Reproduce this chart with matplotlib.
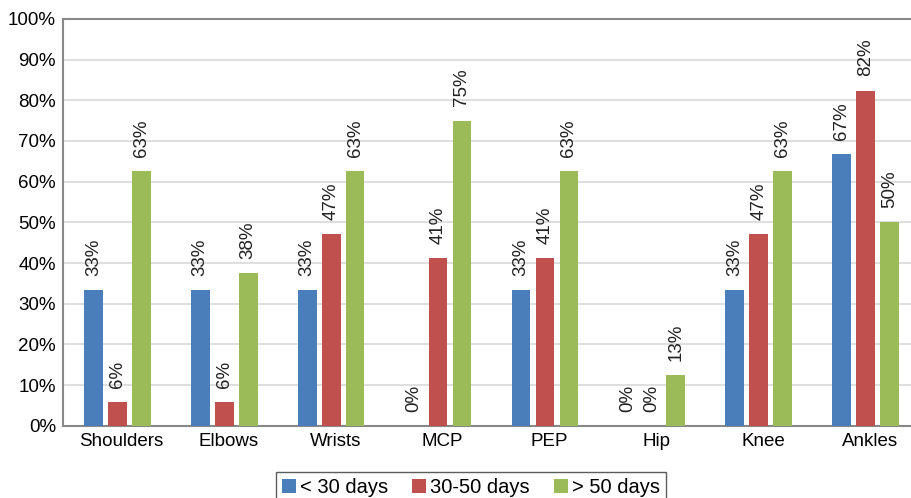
import numpy as np
import matplotlib.pyplot as plt

plt.rcParams['font.family'] = ['Liberation Sans', 'DejaVu Sans']

# Datos (porcentaje)
categorias = ["Shoulders", "Elbows", "Wrists", "MCP", "PEP", "Hip", "Knee", "Ankles"]
menos_30 = [33.3, 33.3, 33.3, 0, 33.3, 0, 33.3, 66.7]
entre_30_50 = [5.9, 5.9, 47.1, 41.2, 41.2, 0, 47.1, 82.4]
mas_50 = [62.5, 37.5, 62.5, 75.0, 62.5, 12.5, 62.5, 50.0]
series = ["< 30 days", "30-50 days", "> 50 days"]
colores = ["#4a7ebb", "#c0504d", "#9bbb59"]

fig = plt.figure(figsize=(9.11, 4.98), dpi=100)
# el eje se sale un poco por la derecha (como en la figura original)
ax = fig.add_axes([0.069, 0.145, 0.941, 0.817])

x = np.arange(len(categorias))
ancho = 0.175
desp = 0.224
for k, (vals, nombre, c) in enumerate(zip([menos_30, entre_30_50, mas_50], series, colores)):
    pos = x + (k - 1) * desp
    ax.bar(pos, vals, width=ancho, color=c, label=nombre, zorder=3)
    for p, v in zip(pos, vals):
        ax.text(p, v + 3.5, f"{int(v + 0.5)}%", rotation=90, ha="center", va="bottom",
                fontsize=13.5, color="#222222")

ax.set_xlim(-0.51, len(categorias) - 0.49)
ax.set_ylim(0, 100)
ax.set_yticks(range(0, 101, 10))
ax.set_yticklabels([f"{v}%" for v in range(0, 101, 10)], fontsize=13.5)
ax.set_xticks(x + 0.04)
ax.set_xticklabels(categorias, fontsize=13.5)
ax.tick_params(axis="both", length=0, pad=5)
ax.grid(axis="y", color="#d9d9d9", linewidth=1.2, zorder=0)
for s in ax.spines.values():
    s.set_color("#888888")
    s.set_linewidth(1.5)

leg = fig.legend(loc="lower center", bbox_to_anchor=(0.517, -0.03), ncol=3, fontsize=14.5,
                 frameon=True, fancybox=False, edgecolor="#333333", handlelength=0.7,
                 handleheight=0.7, handletextpad=0.2, columnspacing=1.2, borderpad=0.3)
leg.get_frame().set_linewidth(1.0)

fig.savefig("out.png", dpi=100)
